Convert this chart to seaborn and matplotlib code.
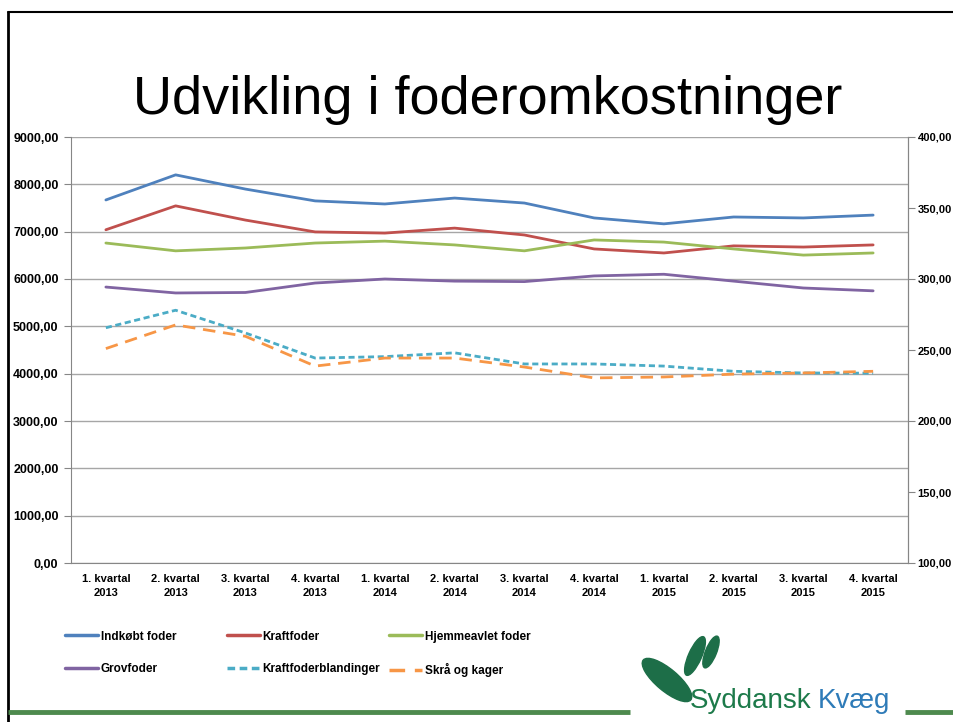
import matplotlib
matplotlib.use("Agg")
import matplotlib.pyplot as plt
import matplotlib.ticker as ticker
from matplotlib.lines import Line2D
from matplotlib.patches import Ellipse
import seaborn as sns
import pandas as pd

# Data
kvartaler = ["1. kvartal\n2013", "2. kvartal\n2013", "3. kvartal\n2013", "4. kvartal\n2013",
             "1. kvartal\n2014", "2. kvartal\n2014", "3. kvartal\n2014", "4. kvartal\n2014",
             "1. kvartal\n2015", "2. kvartal\n2015", "3. kvartal\n2015", "4. kvartal\n2015"]

indkobt_foder = [7670, 8200, 7900, 7650, 7585, 7710, 7605, 7290, 7165, 7310, 7290, 7350]
kraftfoder = [7040, 7545, 7245, 6995, 6970, 7075, 6930, 6635, 6550, 6700, 6675, 6720]
hjemmeavlet = [6760, 6595, 6655, 6760, 6800, 6720, 6595, 6825, 6780, 6635, 6505, 6550]
grovfoder = [5830, 5705, 5715, 5915, 6000, 5955, 5945, 6065, 6100, 5955, 5810, 5750]
kraftfoderblandinger = [4970, 5340, 4860, 4330, 4360, 4440, 4205, 4205, 4160, 4050, 4015, 4010]
skraa_og_kager = [4530, 5030, 4790, 4160, 4330, 4330, 4140, 3910, 3930, 3990, 4015, 4050]

serier = [
    ("Indkøbt foder", indkobt_foder, "#4F81BD", "-"),
    ("Kraftfoder", kraftfoder, "#C0504D", "-"),
    ("Hjemmeavlet foder", hjemmeavlet, "#9BBB59", "-"),
    ("Grovfoder", grovfoder, "#8064A2", "-"),
    ("Kraftfoderblandinger", kraftfoderblandinger, "#4BACC6", (0, (2.2, 1.3))),
    ("Skrå og kager", skraa_og_kager, "#F79646", (0, (4.5, 2.8))),
]

sns.set_style("white")
font = ["Liberation Sans", "DejaVu Sans"]
plt.rcParams["font.family"] = font
plt.rcParams["text.color"] = "black"
plt.rcParams["xtick.color"] = "black"
plt.rcParams["ytick.color"] = "black"

fig = plt.figure(figsize=(9.54, 7.22), dpi=100)

# baggrund med ramme og logo (pixelkoordinater)
bg = fig.add_axes([0, 0, 1, 1])
bg.set_xlim(0, 954)
bg.set_ylim(0, 722)
bg.axis("off")
bg.plot([8, 8], [0, 710], color="black", linewidth=2)
bg.plot([8, 954], [710, 710], color="black", linewidth=1.5)
bg.plot([8, 630], [10, 10], color="#4E8A4E", linewidth=3.5, solid_capstyle="butt")
bg.plot([905, 954], [10, 10], color="#4E8A4E", linewidth=3.5, solid_capstyle="butt")
bg.add_patch(Ellipse((667, 42), 62, 22, angle=-40, color="#1D6E48"))
bg.add_patch(Ellipse((695, 66), 42, 13, angle=66, color="#1D6E48"))
bg.add_patch(Ellipse((711, 70), 34, 11, angle=68, color="#1D6E48"))

ax = fig.add_axes([71 / 954, 1 - 563 / 722, (908 - 71) / 954, (563 - 137) / 722])

x = list(range(len(kvartaler)))
for navn, vaerdier, farve, stil in serier:
    df = pd.DataFrame({"x": x, "y": vaerdier})
    sns.lineplot(data=df, x="x", y="y", ax=ax, color=farve, linewidth=2.0,
                 linestyle=stil, label=navn, legend=False)

ax.set_xlim(-0.5, len(kvartaler) - 0.5)
ax.set_ylim(0, 9000)
ax.yaxis.set_major_locator(ticker.MultipleLocator(1000))
ax.yaxis.set_major_formatter(ticker.FuncFormatter(lambda v, p: f"{v:.2f}".replace(".", ",")))
ax.grid(axis="y", color="#A6A6A6", linewidth=1.0)
ax.set_axisbelow(True)
ax.set_xticks(x)
ax.set_xticklabels(kvartaler, fontweight="bold", linespacing=1.5)
ax.xaxis.set_minor_locator(ticker.FixedLocator([i + 0.5 for i in range(-1, len(kvartaler))]))
ax.tick_params(axis="x", which="major", length=0, pad=8, labelsize=8)
ax.tick_params(axis="x", which="minor", length=5, color="#868686")
ax.tick_params(axis="y", length=5, color="#868686", labelsize=9, pad=4)
for lbl in ax.get_yticklabels():
    lbl.set_fontweight("bold")
ax.set_xlabel("")
ax.set_ylabel("")
ax.spines["top"].set_visible(False)
for side in ["left", "right", "bottom"]:
    ax.spines[side].set_color("#868686")

# sekundær akse
ax2 = ax.twinx()
ax2.set_ylim(100, 400)
ax2.yaxis.set_major_locator(ticker.MultipleLocator(50))
ax2.yaxis.set_major_formatter(ticker.FuncFormatter(lambda v, p: f"{v:.2f}".replace(".", ",")))
ax2.tick_params(axis="y", length=5, color="#868686", labelsize=8, pad=2)
for lbl in ax2.get_yticklabels():
    lbl.set_fontweight("bold")
for side in ["top", "left", "bottom"]:
    ax2.spines[side].set_visible(False)
ax2.spines["right"].set_color("#868686")

# titel
fig.text(488 / 954, 1 - 100 / 722, "Udvikling i foderomkostninger", ha="center", va="center",
         fontsize=39)

# legende i tre kolonner
handles = {}
for navn, vaerdier, farve, stil in serier:
    handles[navn] = Line2D([], [], color=farve, linewidth=2.5, linestyle=stil)
kolonner = [["Indkøbt foder", "Grovfoder"], ["Kraftfoder", "Kraftfoderblandinger"],
            ["Hjemmeavlet foder", "Skrå og kager"]]
for i, kol in enumerate(kolonner):
    fig.legend([handles[n] for n in kol], kol, loc="upper left",
               bbox_to_anchor=((54 + 162 * i) / 954, 1 - 620 / 722), frameon=False,
               handlelength=2.8, handletextpad=0.25, labelspacing=1.7,
               prop={"size": 8.5, "weight": "bold"})

# logo-tekst
t1 = fig.text(690 / 954, 1 - 708 / 722, "Syddansk", color="#1D7A4A", fontsize=20,
              va="baseline")
fig.add_artist(plt.Annotation("Kvæg", xy=(1, 0), xycoords=t1, xytext=(4, 0),
                              textcoords="offset points", va="bottom", color="#2E7BB8",
                              fontsize=20))

fig.savefig("out.png", dpi=100)
